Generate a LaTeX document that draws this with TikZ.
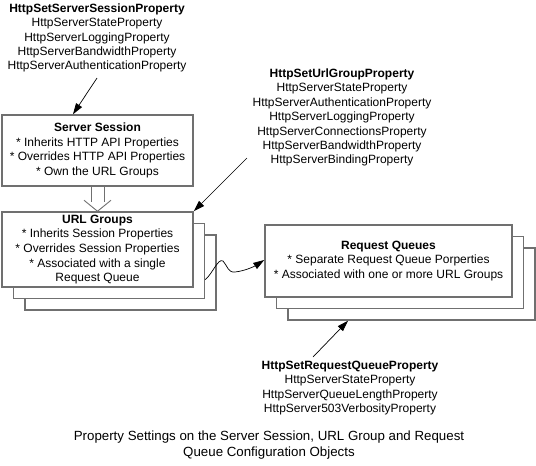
\documentclass[tikz,border=0pt]{standalone}
\usepackage{fontspec}
\setmainfont{Liberation Sans}
\usetikzlibrary{arrows.meta,calc}
\definecolor{boxgray}{HTML}{707070}
\tikzset{
  txt/.style={align=center,font=\fontsize{12}{14.4}\selectfont,inner sep=0pt},
  box/.style={draw=boxgray,line width=1.5pt,fill=white,rectangle,inner sep=0pt,align=center,font=\fontsize{12}{14.6}\selectfont},
  ubox/.style={box,minimum width=191pt,minimum height=75pt},
  rbox/.style={box,minimum width=247pt,minimum height=72pt},
  arr/.style={draw=black,line width=0.7pt,-{Triangle[length=11pt,width=7pt]}},
  captxt/.style={align=center,font=\fontsize{13.3}{16}\selectfont,inner sep=0pt}
}
\begin{document}
\begin{tikzpicture}[x=1pt,y=-1pt]
\useasboundingbox (0,0) rectangle (536,466);
% top property list
\node[txt] (ssp) at (97,38) {\textbf{HttpSetServerSessionProperty}\\HttpServerStateProperty\\HttpServerLoggingProperty\\HttpServerBandwidthProperty\\HttpServerAuthenticationProperty};
% server session box
\node[box,minimum width=191pt,minimum height=71pt] (ss) at (97.5,150.5) {\textbf{Server Session}\\* Inherits HTTP API Properties\\* Overrides HTTP API Properties\\* Own the URL Groups};
% url group stack
\node[ubox] (ug3) at (120.5,272.5) {};
\node[ubox] (ug2) at (109,261) {};
\node[ubox] (ug1) at (97.5,249.5) {\textbf{URL Groups}\\* Inherits Session Properties\\* Overrides Session Properties\\* Associated with a single\\Request Queue};
% request queue stack
\node[rbox] (rq3) at (411.5,284) {};
\node[rbox] (rq2) at (400,272.5) {};
\node[rbox] (rq1) at (388.5,261) {\textbf{Request Queues}\\* Separate Request Queue Porperties\\* Associated with one or more URL Groups};
% url group property list
\node[txt] (urlp) at (342,117.5) {\textbf{HttpSetUrlGroupProperty}\\HttpServerStateProperty\\HttpServerAuthenticationProperty\\HttpServerLoggingProperty\\HttpServerConnectionsProperty\\HttpServerBandwidthProperty\\HttpServerBindingProperty};
% request queue property list
\node[txt] (rqp) at (350,388) {\textbf{HttpSetRequestQueueProperty}\\HttpServerStateProperty\\HttpServerQueueLengthProperty\\HttpServer503VerbosityProperty};
% caption
\node[captxt] (capt) at (269,445) {Property Settings on the Server Session, URL Group and Request\\Queue Configuration Objects};
% arrows
\coordinate (t1) at (97,78);
\draw[arr] (t1) -- ([xshift=-24.5pt]ss.north);
\coordinate (t2) at (247,158);
\draw[arr] (t2) -- (ug1.north east);
\coordinate (t3) at (313,357);
\draw[arr] (t3) -- ([xshift=-63.5pt]rq3.south);
% inheritance (hollow) arrow
\draw[boxgray,line width=0.9pt] ([xshift=-6.5pt]ss.south) -- ++(0,15);
\draw[boxgray,line width=0.9pt] ([xshift=6.5pt]ss.south) -- ++(0,15);
\draw[boxgray,line width=0.9pt] ([xshift=-13.5pt,yshift=11pt]ug1.north) -- (ug1.north) -- ([xshift=13.5pt,yshift=11pt]ug1.north);
% wavy connector
\coordinate (wend) at ([yshift=1pt]rq1.west);
\draw[arr] ([yshift=19.5pt]ug2.south east) .. controls (213,273) and (218,258) .. (223,261)
  .. controls (227,265) and (228,273) .. (235,272)
  .. controls (245,271) and (255,266) .. (wend);
\end{tikzpicture}
\end{document}
